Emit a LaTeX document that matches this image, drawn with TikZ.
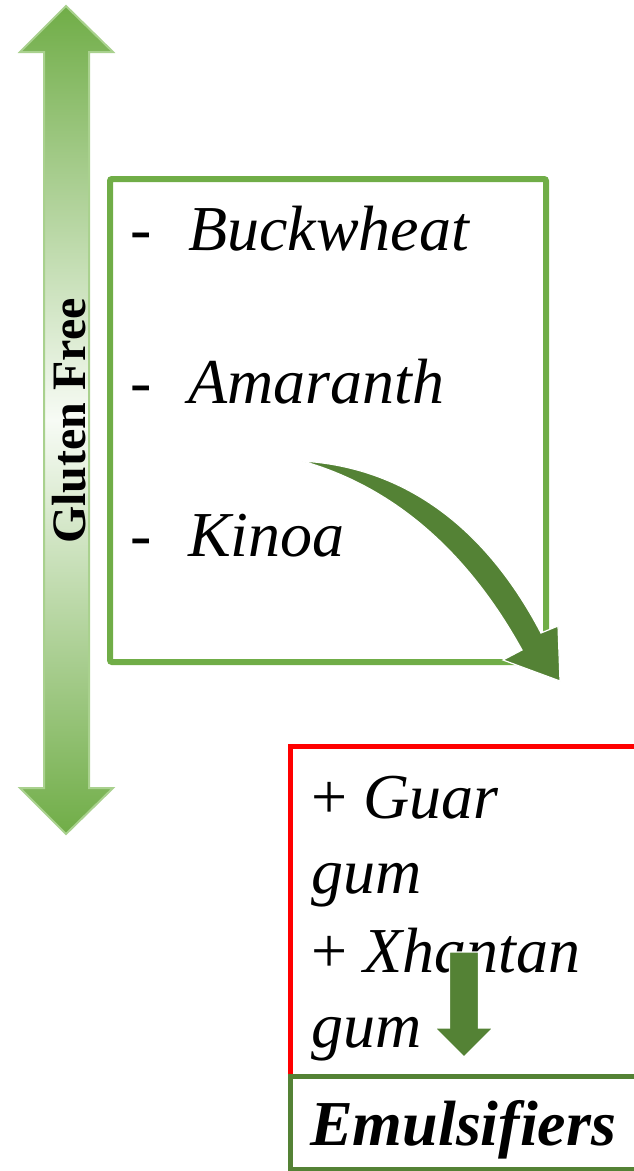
\documentclass[tikz,border=0pt]{standalone}
\usepackage{fontspec}
\setmainfont{Liberation Serif}
\definecolor{leafgreen}{HTML}{70AD47}
\definecolor{darkleaf}{HTML}{548235}
\definecolor{paleleaf}{HTML}{A9D18E}
\definecolor{mistgreen}{HTML}{F7FBF5}
\tikzset{
  wordtxt/.style={anchor=base west, inner sep=0pt, font=\fontsize{64}{77}\selectfont\itshape},
  bullettxt/.style={anchor=base west, inner sep=0pt, font=\fontsize{64}{77}\selectfont},
  grainbox/.style={draw=leafgreen, line width=6pt, rounded corners=2pt},
  gumbox/.style={draw=red, line width=5pt},
  emulbox/.style={draw=darkleaf, line width=5pt},
  thickarrow/.style={fill=darkleaf, draw=white, line width=1.2pt, line join=miter},
}
\begin{document}
\begin{tikzpicture}[x=1pt,y=-1pt]
\useasboundingbox (0,0) rectangle (634,1171);

% vertical double arrow with a fading gradient
\shade[top color=leafgreen, bottom color=leafgreen, middle color=mistgreen,
       draw=paleleaf, line width=2pt, line join=miter]
  (66,6) -- (113,52) -- (89,52) -- (89,788) -- (113,788) -- (66,834)
  -- (20,788) -- (44,788) -- (44,52) -- (20,52) -- cycle;
\node[rotate=90, inner sep=0pt, font=\fontsize{48}{57}\selectfont\bfseries] (gf) at (69,421) {Gluten Free};

% box of gluten-free grains
\draw[grainbox] (110,179) rectangle (546,662);
\node[bullettxt] (d1) at (130,250) {-};
\node[wordtxt] (w1) at (188,250) {Buckwheat};
\node[bullettxt] (d2) at (130,403) {-};
\node[wordtxt] (w2) at (188,403) {Amaranth};
\node[bullettxt] (d3) at (130,556) {-};
\node[wordtxt] (w3) at (188,556) {Kinoa};

% hydrocolloid box
\draw[gumbox] (290,746) rectangle (645,1076);
\node[bullettxt] (g1) at (311,818) {+ \textit{Guar}};
\node[wordtxt] (g2) at (311,893) {gum};
\node[bullettxt] (g3) at (311,972) {+ \textit{Xhantan}};
\node[wordtxt] (g4) at (311,1047) {gum};

% emulsifier box
\draw[emulbox] (290,1076) rectangle (645,1169);
\node[anchor=base west, inner sep=0pt, font=\fontsize{64}{77}\selectfont\bfseries\itshape] (em) at (310,1145) {Emulsifiers};

% curved tapering arrow from the grain box
\coordinate (cstart) at (302,461);
\coordinate (ctip) at (560,681);
\fill[thickarrow]
  (cstart) .. controls (420,468) and (495,545) .. (541,633)
  -- (558,626) -- (ctip) -- (503,660) -- (522,650)
  .. controls (475,565) and (405,490) .. (cstart) -- cycle;

% short down arrow into the emulsifier box
\coordinate (stop) at (464,952);
\coordinate (stip) at (464,1057);
\fill[thickarrow]
  (449.5,952) -- (478.5,952) -- (478.5,1028) -- (493,1028)
  -- (stip) -- (435,1028) -- (449.5,1028) -- cycle;
\end{tikzpicture}
\end{document}
